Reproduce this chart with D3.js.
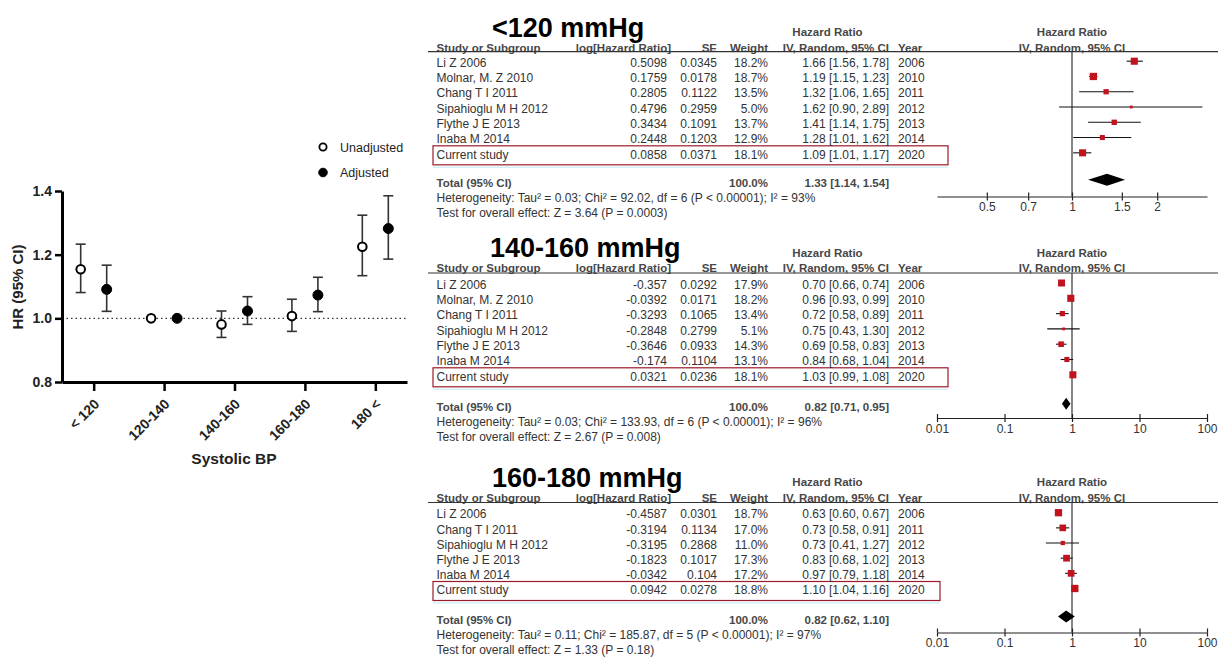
<!DOCTYPE html>
<html><head><meta charset="utf-8">
<script src="https://cdn.jsdelivr.net/npm/d3@7"></script>
<style>
body{margin:0;background:#fff;}
svg{display:block;font-family:"Liberation Sans",Arial,sans-serif;}
</style></head>
<body><svg id="c" width="1218" height="670"></svg>
<script>
// ---------- Left chart data ----------
const cats = ["< 120","120-140","140-160","160-180","180 <"];
const unadjHR = [1.154, 1.0, 0.981, 1.007, 1.225];
const unadjLo = [1.081, null, 0.940, 0.959, 1.134];
const unadjHi = [1.233, null, 1.023, 1.060, 1.324];
const adjHR = [1.091, 1.0, 1.023, 1.073, 1.282];
const adjLo = [1.022, null, 0.981, 1.021, 1.186];
const adjHi = [1.167, null, 1.068, 1.129, 1.385];
const yTicks = [0.8, 1.0, 1.2, 1.4];
const legendLabels = ["Unadjusted","Adjusted"];

// ---------- Forest table 1 (<120 mmHg) ----------
const t1Title = "<120 mmHg";
const t1Studies = ["Li Z 2006","Molnar, M. Z 2010","Chang T I 2011","Sipahioglu M H 2012","Flythe J E 2013","Inaba M 2014","Current study"];
const t1LogHR = ["0.5098","0.1759","0.2805","0.4796","0.3434","0.2448","0.0858"];
const t1SE = ["0.0345","0.0178","0.1122","0.2959","0.1091","0.1203","0.0371"];
const t1Weight = [18.2,18.7,13.5,5.0,13.7,12.9,18.1];
const t1HR = [1.66,1.19,1.32,1.62,1.41,1.28,1.09];
const t1Lo = [1.56,1.15,1.06,0.90,1.14,1.01,1.01];
const t1Hi = [1.78,1.23,1.65,2.89,1.75,1.62,1.17];
const t1Year = ["2006","2010","2011","2012","2013","2014","2020"];
const t1Total = [1.33,1.14,1.54];
const t1Het = "Heterogeneity: Tau\u00b2 = 0.03; Chi\u00b2 = 92.02, df = 6 (P < 0.00001); I\u00b2 = 93%";
const t1Test = "Test for overall effect: Z = 3.64 (P = 0.0003)";
const t1Ticks = [0.5,0.7,1,1.5,2];

// ---------- Forest table 2 (140-160 mmHg) ----------
const t2Title = "140-160 mmHg";
const t2Studies = ["Li Z 2006","Molnar, M. Z 2010","Chang T I 2011","Sipahioglu M H 2012","Flythe J E 2013","Inaba M 2014","Current study"];
const t2LogHR = ["-0.357","-0.0392","-0.3293","-0.2848","-0.3646","-0.174","0.0321"];
const t2SE = ["0.0292","0.0171","0.1065","0.2799","0.0933","0.1104","0.0236"];
const t2Weight = [17.9,18.2,13.4,5.1,14.3,13.1,18.1];
const t2HR = [0.70,0.96,0.72,0.75,0.69,0.84,1.03];
const t2Lo = [0.66,0.93,0.58,0.43,0.58,0.68,0.99];
const t2Hi = [0.74,0.99,0.89,1.30,0.83,1.04,1.08];
const t2Year = ["2006","2010","2011","2012","2013","2014","2020"];
const t2Total = [0.82,0.71,0.95];
const t2Het = "Heterogeneity: Tau\u00b2 = 0.03; Chi\u00b2 = 133.93, df = 6 (P < 0.00001); I\u00b2 = 96%";
const t2Test = "Test for overall effect: Z = 2.67 (P = 0.008)";
const t2Ticks = [0.01,0.1,1,10,100];

// ---------- Forest table 3 (160-180 mmHg) ----------
const t3Title = "160-180 mmHg";
const t3Studies = ["Li Z 2006","Chang T I 2011","Sipahioglu M H 2012","Flythe J E 2013","Inaba M 2014","Current study"];
const t3LogHR = ["-0.4587","-0.3194","-0.3195","-0.1823","-0.0342","0.0942"];
const t3SE = ["0.0301","0.1134","0.2868","0.1017","0.104","0.0278"];
const t3Weight = [18.7,17.0,11.0,17.3,17.2,18.8];
const t3HR = [0.63,0.73,0.73,0.83,0.97,1.10];
const t3Lo = [0.60,0.58,0.41,0.68,0.79,1.04];
const t3Hi = [0.67,0.91,1.27,1.02,1.18,1.16];
const t3Year = ["2006","2011","2012","2013","2014","2020"];
const t3Total = [0.82,0.62,1.10];
const t3Het = "Heterogeneity: Tau\u00b2 = 0.11; Chi\u00b2 = 185.87, df = 5 (P < 0.00001); I\u00b2 = 97%";
const t3Test = "Test for overall effect: Z = 1.33 (P = 0.18)";
const t3Ticks = [0.01,0.1,1,10,100];

const svg = d3.select("#c");

// ================= LEFT CHART =================
(function(){
  const g = svg.append("g");
  const x = d3.scalePoint(cats,[62,407]).padding(0.45);
  const y = d3.scaleLinear([0.8,1.4],[382,191]);
  const off = 13;

  g.append("line").attr("x1",62).attr("x2",407).attr("y1",y(1)).attr("y2",y(1))
    .attr("stroke","#333").attr("stroke-width",1.3).attr("stroke-dasharray","1.5,3");

  const ya = g.append("g").attr("transform","translate(62,0)")
    .call(d3.axisLeft(y).tickValues(yTicks).tickFormat(d3.format(".1f")).tickSize(7).tickSizeOuter(0).tickPadding(3));
  ya.select(".domain").attr("stroke","#000").attr("stroke-width",3);
  ya.selectAll(".tick line").attr("stroke","#000").attr("stroke-width",2.5);
  ya.selectAll("text").attr("font-size",14).attr("font-weight","bold").attr("fill","#222");

  const xa = g.append("g").attr("transform","translate(0,382)")
    .call(d3.axisBottom(x).tickSize(9).tickSizeOuter(0));
  xa.select(".domain").attr("stroke","#000").attr("stroke-width",3);
  xa.selectAll(".tick line").attr("stroke","#000").attr("stroke-width",2.5);
  xa.selectAll("text").attr("font-size",14).attr("font-weight","bold").attr("fill","#222")
    .attr("text-anchor","end").attr("dy",0).attr("y",0)
    .attr("transform","translate(6,23) rotate(-45)");

  function series(hr, lo, hi, dx, filled){
    cats.forEach((c,i)=>{
      const cx = x(c)+dx;
      if(lo[i]!=null){
        const col="#333";
        g.append("line").attr("x1",cx).attr("x2",cx).attr("y1",y(lo[i])).attr("y2",y(hi[i])).attr("stroke",col).attr("stroke-width",1.6);
        [lo[i],hi[i]].forEach(v=>g.append("line").attr("x1",cx-5).attr("x2",cx+5).attr("y1",y(v)).attr("y2",y(v)).attr("stroke",col).attr("stroke-width",1.6));
      }
      g.append("circle").attr("cx",cx).attr("cy",y(hr[i])).attr("r",filled?5:4.3)
        .attr("fill",filled?"#000":"#fff").attr("stroke","#000").attr("stroke-width",filled?1:2);
    });
  }
  series(unadjHR,unadjLo,unadjHi,-off,false);
  series(adjHR,adjLo,adjHi,off,true);

  g.append("text").attr("transform","translate(23,287) rotate(-90)").attr("text-anchor","middle")
    .attr("font-size",15).attr("font-weight","bold").attr("fill","#222").text("HR (95% CI)");
  g.append("text").attr("x",234).attr("y",464).attr("text-anchor","middle")
    .attr("font-size",15.5).attr("font-weight","bold").attr("fill","#222").text("Systolic BP");

  legendLabels.forEach((l,i)=>{
    const ly = 147 + i*25.5;
    g.append("circle").attr("cx",323).attr("cy",ly).attr("r",i?4.3:3.6)
      .attr("fill",i?"#000":"#fff").attr("stroke","#000").attr("stroke-width",i?1:1.8);
    g.append("text").attr("x",340).attr("y",ly).attr("dy","0.36em").attr("font-size",12.5)
      .attr("fill","#222").text(l);
  });
})();

// ================= FOREST TABLES =================
const f2 = d3.format(".2f"), f1 = d3.format(".1f");
function forest(cfg){
  const g = svg.append("g");
  const fs = 12, fsb = 11.5, txt="#333", hdr="#474747";
  const n = cfg.studies.length;
  const rowY = i => cfg.row0 + i*cfg.step;
  const xs = d3.scaleLog(cfg.domain,[937,1207]);

  g.append("text").attr("x",cfg.titleX).attr("y",cfg.hy-11).attr("font-size",cfg.titleSize)
    .attr("font-weight","bold").attr("fill","#000").text(cfg.title);

  const T = (x,y,s,anchor,bold,color)=>g.append("text").attr("x",x).attr("y",y).attr("dy","0.35em")
      .attr("font-size",bold?fsb:fs).attr("text-anchor",anchor||"start").attr("font-weight",bold?"bold":"normal")
      .attr("fill",color||txt).text(s);

  T(827.5,cfg.hy-15.5,"Hazard Ratio","middle",true,hdr);
  T(1072,cfg.hy-15.5,"Hazard Ratio","middle",true,hdr);
  T(436.5,cfg.hy,"Study or Subgroup","start",true,hdr);
  T(671,cfg.hy,"log[Hazard Ratio]","end",true,hdr);
  T(717,cfg.hy,"SE","end",true,hdr);
  T(768,cfg.hy,"Weight","end",true,hdr);
  T(889,cfg.hy,"IV, Random, 95% CI","end",true,hdr);
  T(898,cfg.hy,"Year","start",true,hdr);
  T(1072,cfg.hy,"IV, Random, 95% CI","middle",true,hdr);
  g.append("line").attr("x1",428).attr("x2",1218).attr("y1",cfg.ly).attr("y2",cfg.ly)
    .attr("stroke","#333").attr("stroke-width",1.2);

  const cy = rowY(n-1);
  g.append("line").attr("x1",433).attr("x2",cfg.boxR).attr("y1",cy+13).attr("y2",cy+13)
    .attr("stroke","#d6f1f6").attr("stroke-width",1.5);
  g.append("rect").attr("x",433).attr("y",cy-8.5).attr("width",cfg.boxR-433).attr("height",19)
    .attr("fill","none").attr("stroke","#9b1b2a").attr("stroke-width",1.2);

  cfg.studies.forEach((s,i)=>{
    const y = rowY(i);
    T(436.5,y,s);
    T(667,y,cfg.logHR[i],"end");
    T(717,y,cfg.se[i],"end");
    T(768,y,f1(cfg.weight[i])+"%","end");
    T(889,y,`${f2(cfg.hr[i])} [${f2(cfg.lo[i])}, ${f2(cfg.hi[i])}]`,"end");
    T(898,y,cfg.year[i]);
  });
  T(436.5,cfg.ty,"Total (95% CI)","start",true,hdr);
  T(768,cfg.ty,"100.0%","end",true,hdr);
  T(889,cfg.ty,`${f2(cfg.total[0])} [${f2(cfg.total[1])}, ${f2(cfg.total[2])}]`,"end",true,hdr);
  T(436.5,cfg.ty+15.5,cfg.het);
  T(436.5,cfg.ty+30.5,cfg.test);

  g.append("line").attr("x1",xs(1)).attr("x2",xs(1)).attr("y1",cfg.ly).attr("y2",cfg.ay)
    .attr("stroke","#333").attr("stroke-width",1.2);

  const sz = d3.scaleLinear([0,20],[0,7.8]);
  cfg.studies.forEach((s,i)=>{
    const y = rowY(i)-1.5;
    g.append("line").attr("x1",xs(cfg.lo[i])).attr("x2",xs(cfg.hi[i])).attr("y1",y).attr("y2",y)
      .attr("stroke","#111").attr("stroke-width",1.1);
    const w = Math.max(2.8, sz(cfg.weight[i]));
    g.append("rect").attr("x",xs(cfg.hr[i])-w/2).attr("y",y-w/2).attr("width",w).attr("height",w)
      .attr("fill","#c0121f");
  });
  const dy = cfg.ty-3;
  g.append("path").attr("d",`M${xs(cfg.total[1])},${dy} L${xs(cfg.total[0])},${dy-6} L${xs(cfg.total[2])},${dy} L${xs(cfg.total[0])},${dy+6} Z`)
    .attr("fill","#000");

  const fmt = d => String(d);
  const ax = g.append("g").attr("transform",`translate(0,${cfg.ay})`)
    .call(d3.axisBottom(xs).tickValues(cfg.ticks).tickFormat(fmt).tickSize(4).tickSizeOuter(0).tickPadding(2));
  ax.select(".domain").attr("stroke","#222").attr("stroke-width",1.2);
  ax.selectAll(".tick line").attr("stroke","#222").attr("stroke-width",1.2);
  ax.selectAll("text").attr("font-size",fs).attr("fill",txt).attr("font-family","Liberation Sans, Arial, sans-serif");
  const ax2 = g.append("g").attr("transform",`translate(0,${cfg.ay})`)
    .call(d3.axisTop(xs).tickValues(cfg.ticks).tickFormat("").tickSize(4).tickSizeOuter(0));
  ax2.select(".domain").remove();
  ax2.selectAll(".tick line").attr("stroke","#222").attr("stroke-width",1.2);
}

forest({title:t1Title,titleX:492,titleSize:27,hy:47.7,ly:51.7,row0:62.7,step:15.27,ty:182.7,ay:196.5,boxR:948,
  studies:t1Studies,logHR:t1LogHR,se:t1SE,weight:t1Weight,hr:t1HR,lo:t1Lo,hi:t1Hi,year:t1Year,
  total:t1Total,het:t1Het,test:t1Test,ticks:t1Ticks,domain:[1/3,3]});
forest({title:t2Title,titleX:490,titleSize:27,hy:268.3,ly:273,row0:284.5,step:15.3,ty:406.7,ay:418,boxR:948,
  studies:t2Studies,logHR:t2LogHR,se:t2SE,weight:t2Weight,hr:t2HR,lo:t2Lo,hi:t2Hi,year:t2Year,
  total:t2Total,het:t2Het,test:t2Test,ticks:t2Ticks,domain:[0.01,100]});
forest({title:t3Title,titleX:492,titleSize:27,hy:497.7,ly:502.5,row0:514.2,step:15.16,ty:619.5,ay:632.5,boxR:940,
  studies:t3Studies,logHR:t3LogHR,se:t3SE,weight:t3Weight,hr:t3HR,lo:t3Lo,hi:t3Hi,year:t3Year,
  total:t3Total,het:t3Het,test:t3Test,ticks:t3Ticks,domain:[0.01,100]});
</script></body></html>
